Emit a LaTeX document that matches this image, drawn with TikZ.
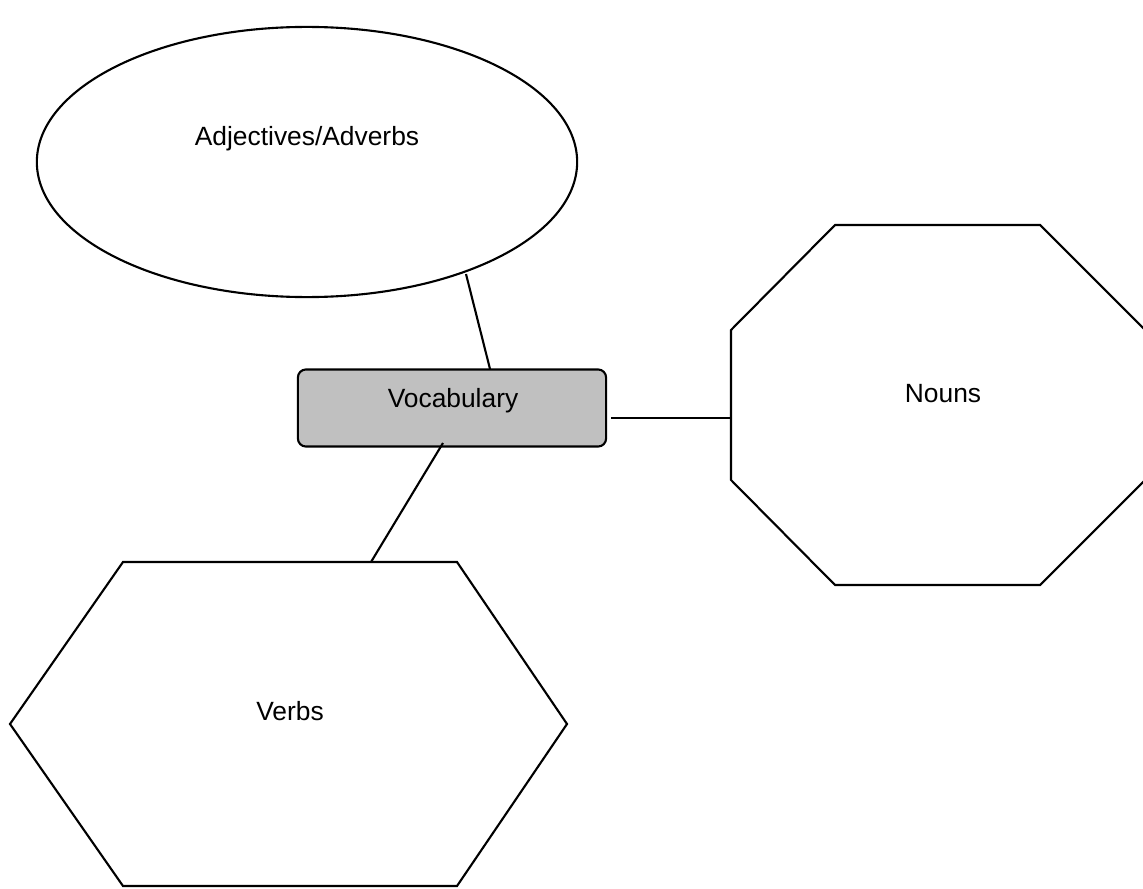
\documentclass[tikz,border=0pt]{standalone}
\usepackage{fontspec}
\setmainfont{Liberation Sans}
\usetikzlibrary{shapes.geometric}

\definecolor{vocgray}{RGB}{192,192,192}
\tikzset{
  shapeline/.style={draw=black, line width=0.6pt},
  label text/.style={font=\fontsize{7.5}{9}\selectfont, inner sep=0pt, anchor=base},
  link/.style={draw=black, line width=0.6pt}
}

\begin{document}
\begin{tikzpicture}[x=0.01cm, y=-0.01cm]
    \useasboundingbox (0,0) rectangle (1143,888);

    % central topic
    \node[shapeline, rectangle, rounded corners=0.8mm, fill=vocgray, minimum width=3.08cm, minimum height=0.77cm] (voc) at (452,408) {};
    \node[label text] (voctext) at (453,407) {Vocabulary};

    % adjectives / adverbs
    \node[shapeline, ellipse, minimum width=5.4cm, minimum height=2.7cm, inner sep=0pt] (adj) at (307,162) {};
    \node[label text] (adjtext) at (307,146) {Adjectives/Adverbs};

    % nouns
    \draw[shapeline] (835,225) -- (1040,225) -- (1145,330) -- (1145,480) -- (1040,585) -- (835,585) -- (731,480) -- (731,330) -- cycle;
    \node[label text] (nountext) at (943,402) {Nouns};
    \coordinate (nounside) at (731,418);

    % verbs
    \draw[shapeline] (123,562) -- (457,562) -- (567,724) -- (457,886) -- (123,886) -- (10,724) -- cycle;
    \node[label text] (verbtext) at (290,720) {Verbs};
    \coordinate (verbtop) at (371,562);

    % connectors
    \coordinate (adjfoot) at (466,274);
    \coordinate (voctop) at (490,369);
    \coordinate (vocright) at (611,418);
    \coordinate (vocbottom) at (443,443);
    \draw[link] (adjfoot) -- (voctop);
    \draw[link] (vocright) -- (nounside);
    \draw[link] (vocbottom) -- (verbtop);
\end{tikzpicture}
\end{document}
